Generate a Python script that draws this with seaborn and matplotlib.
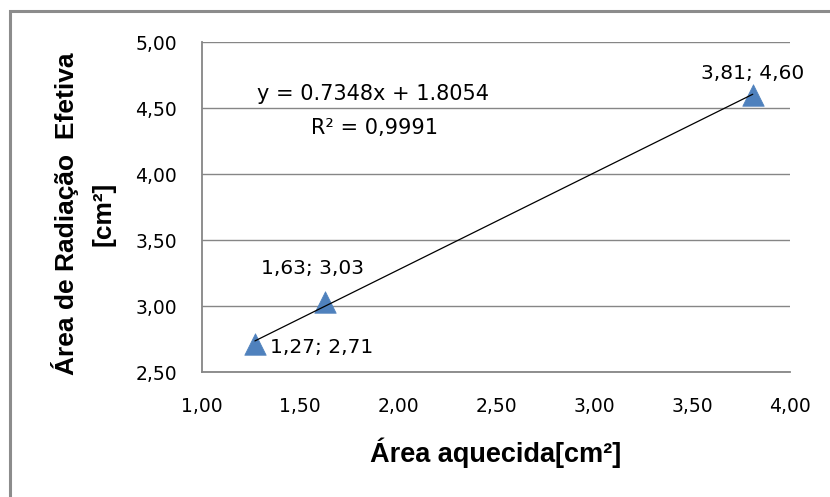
import numpy as np
import pandas as pd
import matplotlib
matplotlib.use("Agg")
import matplotlib.pyplot as plt
from matplotlib.patches import Rectangle
import seaborn as sns

# data
area_aquecida = [1.27, 1.63, 3.81]
area_radiacao = [2.71, 3.03, 4.60]
point_labels = ["1,27; 2,71", "1,63; 3,03", "3,81; 4,60"]
eq_text = "y = 0.7348x + 1.8054"
r2_text = "R\u00b2 = 0,9991"

x_ticks = [1.0, 1.5, 2.0, 2.5, 3.0, 3.5, 4.0]
x_tick_labels = ["1,00", "1,50", "2,00", "2,50", "3,00", "3,50", "4,00"]
y_ticks = [2.5, 3.0, 3.5, 4.0, 4.5, 5.0]
y_tick_labels = ["2,50", "3,00", "3,50", "4,00", "4,50", "5,00"]

df = pd.DataFrame({"x": area_aquecida, "y": area_radiacao})

sns.set_theme(style="white")
plt.rcParams["font.family"] = ["DejaVu Sans"]
plt.rcParams["text.color"] = "black"
plt.rcParams["axes.labelcolor"] = "black"

grey = "#868686"
blue = "#4F81BD"

fig = plt.figure(figsize=(8.3, 4.97), dpi=100)
ax = fig.add_axes([202 / 830, 1 - 372 / 497, 588 / 830, 330 / 497])

ax.yaxis.grid(True, color=grey, lw=1)
ax.set_axisbelow(True)

sns.scatterplot(data=df, x="x", y="y", ax=ax, marker="^", s=240,
                color=blue, edgecolor=blue, linewidth=0.5, zorder=3)
sns.regplot(data=df, x="x", y="y", ax=ax, scatter=False, ci=None, truncate=True,
            color="black", line_kws={"lw": 0.9, "zorder": 4})

ax.set_xlim(1.0, 4.0)
ax.set_ylim(2.5, 5.0)
ax.set_xticks(x_ticks)
ax.set_xticklabels(x_tick_labels)
ax.set_yticks(y_ticks)
ax.set_yticklabels(y_tick_labels)
ax.tick_params(axis="both", direction="out", length=8, width=1, color=grey,
               labelsize=13.5, labelcolor="black", pad=10)

for s in ["top", "right"]:
    ax.spines[s].set_visible(False)
for s in ["left", "bottom"]:
    ax.spines[s].set_color(grey)
    ax.spines[s].set_linewidth(1.3)

# data labels
ax.annotate(point_labels[0], (area_aquecida[0], area_radiacao[0]), xytext=(11, -2),
            textcoords="offset points", ha="left", va="center", fontsize=14.5)
ax.annotate(point_labels[1], (area_aquecida[1], area_radiacao[1]), xytext=(-9, 24),
            textcoords="offset points", ha="center", va="center", fontsize=14.5)
ax.annotate(point_labels[2], (area_aquecida[2], area_radiacao[2]), xytext=(0, 15),
            textcoords="offset points", ha="center", va="center", fontsize=14.5)

# trendline equation
ax.text((373 - 202) / 588, 1 - (94 - 42) / 330, eq_text, transform=ax.transAxes,
        ha="center", va="center", fontsize=15)
ax.text((374 - 202) / 588, 1 - (128 - 42) / 330, r2_text, transform=ax.transAxes,
        ha="center", va="center", fontsize=15)

ax.set_xlabel("\u00c1rea aquecida[cm\u00b2]", fontsize=19.5, fontweight="bold",
              family="Liberation Sans")
ax.xaxis.set_label_coords(0.5, -0.2)
ax.set_ylabel("\u00c1rea de Radia\u00e7\u00e3o  Efetiva\n[cm\u00b2]", fontsize=19,
              fontweight="bold", family="Liberation Sans", linespacing=1.65)
ax.yaxis.set_label_coords(-0.147, 0.48)

# chart area border
fig.patches.append(Rectangle((10 / 830, -0.2), 1.5, 1 - 11.5 / 497 + 0.2,
                             transform=fig.transFigure, fill=False,
                             edgecolor="#8c8c8c", lw=2.2, clip_on=False))

fig.savefig("out.png", dpi=100)
